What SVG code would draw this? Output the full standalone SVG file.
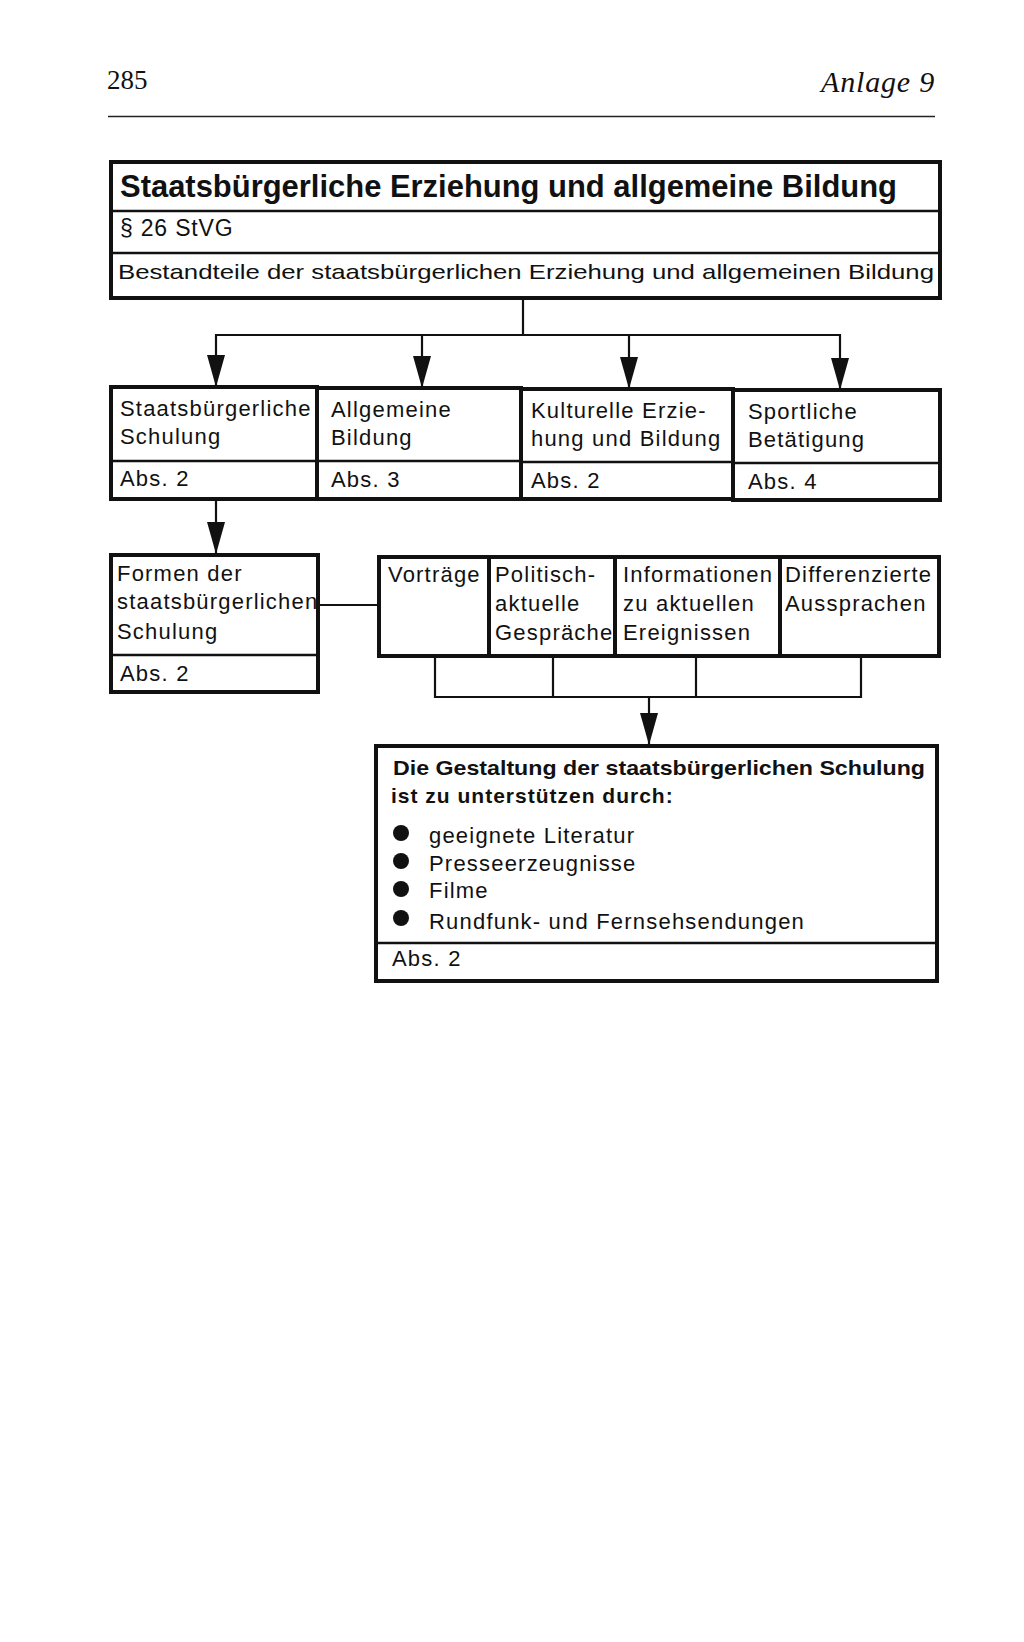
<svg xmlns="http://www.w3.org/2000/svg" width="1024" height="1642" viewBox="0 0 1024 1642">
<defs>
<style>
.s{font-family:"Liberation Sans","DejaVu Sans",sans-serif;fill:#111}
.t{font-size:22px;letter-spacing:1.2px}
.b{font-weight:bold}
.box{fill:#fff;stroke:#111;stroke-width:4}
.div{stroke:#111;stroke-width:2.5;fill:none}
.con{stroke:#111;stroke-width:2.2;fill:none}
</style>
<marker id="ah" viewBox="0 0 32 18" refX="32" refY="9" markerWidth="32" markerHeight="18" markerUnits="userSpaceOnUse" orient="auto">
<path d="M0,0 L32,9 L0,18 z" fill="#111"/>
</marker>
</defs>
<rect width="1024" height="1642" fill="#fff"/>
<g id="page-header">
<text x="107" y="89" font-family="Liberation Serif,serif" font-size="27" fill="#111">285</text>
<text x="935" y="92" font-family="Liberation Serif,serif" font-size="30" letter-spacing="0.8" font-style="italic" fill="#111" text-anchor="end">Anlage 9</text>
<line x1="108" y1="116.5" x2="935" y2="116.5" stroke="#222" stroke-width="1.5"/>
</g>
<g id="main">
<rect class="box" x="111" y="162" width="829" height="136"/>
<line class="div" x1="111" y1="211" x2="940" y2="211"/>
<line class="div" x1="111" y1="253" x2="940" y2="253"/>
<text class="s b" x="120" y="197" font-size="31" textLength="777" lengthAdjust="spacingAndGlyphs">Staatsbürgerliche Erziehung und allgemeine Bildung</text>
<text class="s" x="120" y="236" font-size="23" letter-spacing="0.8">§ 26 StVG</text>
<text class="s" x="118" y="279" font-size="21" textLength="816" lengthAdjust="spacingAndGlyphs">Bestandteile der staatsbürgerlichen Erziehung und allgemeinen Bildung</text>
</g>
<g id="connectors">
<path class="con" d="M523,298 V335 M216,335 H840"/>
<line class="con" x1="216" y1="334" x2="216" y2="387" marker-end="url(#ah)"/>
<line class="con" x1="422" y1="334" x2="422" y2="388" marker-end="url(#ah)"/>
<line class="con" x1="629" y1="334" x2="629" y2="389" marker-end="url(#ah)"/>
<line class="con" x1="840" y1="334" x2="840" y2="390" marker-end="url(#ah)"/>
<line class="con" x1="216" y1="500" x2="216" y2="554" marker-end="url(#ah)"/>
<line class="con" x1="319" y1="605" x2="379" y2="605"/>
<path class="con" d="M435,656 V697 H861 V656 M553,656 V697 M696,656 V697"/>
<line class="con" x1="649" y1="697" x2="649" y2="745" marker-end="url(#ah)"/>
</g>
<g id="row2-staatsbuergerliche-schulung">
<rect class="box" x="111" y="387" width="206" height="112"/>
<line class="div" x1="111" y1="461" x2="317" y2="461"/>
<text class="s t" x="120" y="416">Staatsbürgerliche</text>
<text class="s t" x="120" y="444">Schulung</text>
<text class="s t" x="120" y="486">Abs. 2</text>
</g>
<g id="row2-allgemeine-bildung">
<rect class="box" x="317" y="388" width="204" height="111"/>
<line class="div" x1="317" y1="461" x2="521" y2="461"/>
<text class="s t" x="331" y="417">Allgemeine</text>
<text class="s t" x="331" y="445">Bildung</text>
<text class="s t" x="331" y="487">Abs. 3</text>
</g>
<g id="row2-kulturelle-erziehung">
<rect class="box" x="521" y="389" width="212" height="110"/>
<line class="div" x1="521" y1="462" x2="733" y2="462"/>
<text class="s t" x="531" y="418">Kulturelle Erzie-</text>
<text class="s t" x="531" y="446">hung und Bildung</text>
<text class="s t" x="531" y="488">Abs. 2</text>
</g>
<g id="row2-sportliche-betaetigung">
<rect class="box" x="733" y="390" width="207" height="110"/>
<line class="div" x1="733" y1="463" x2="940" y2="463"/>
<text class="s t" x="748" y="419">Sportliche</text>
<text class="s t" x="748" y="447">Betätigung</text>
<text class="s t" x="748" y="489">Abs. 4</text>
</g>
<g id="formen">
<rect class="box" x="111" y="555" width="207" height="137"/>
<line class="div" x1="111" y1="655" x2="318" y2="655"/>
<text class="s t" x="117" y="581">Formen der</text>
<text class="s t" x="117" y="609">staatsbürgerlichen</text>
<text class="s t" x="117" y="639">Schulung</text>
<text class="s t" x="120" y="681">Abs. 2</text>
</g>
<g id="vortraege">
<rect class="box" x="379" y="557" width="110" height="99"/>
<text class="s t" x="388" y="582">Vorträge</text>
</g>
<g id="politisch-aktuelle-gespraeche">
<rect class="box" x="489" y="557" width="126" height="99"/>
<text class="s t" x="495" y="582">Politisch-</text>
<text class="s t" x="495" y="611">aktuelle</text>
<text class="s t" x="495" y="640">Gespräche</text>
</g>
<g id="informationen">
<rect class="box" x="615" y="557" width="165" height="99"/>
<text class="s t" x="623" y="582">Informationen</text>
<text class="s t" x="623" y="611">zu aktuellen</text>
<text class="s t" x="623" y="640">Ereignissen</text>
</g>
<g id="differenzierte-aussprachen">
<rect class="box" x="780" y="557" width="159" height="99"/>
<text class="s t" x="785" y="582">Differenzierte</text>
<text class="s t" x="785" y="611">Aussprachen</text>
</g>
<g id="gestaltung">
<rect class="box" x="376" y="746" width="561" height="235"/>
<line class="div" x1="376" y1="943" x2="937" y2="943"/>
<text class="s b" x="393" y="775" font-size="21" textLength="532" lengthAdjust="spacingAndGlyphs">Die Gestaltung der staatsbürgerlichen Schulung</text>
<text class="s b" x="391" y="803" font-size="21" letter-spacing="1">ist zu unterstützen durch:</text>
<circle cx="401" cy="833" r="8" fill="#111"/>
<circle cx="401" cy="861" r="8" fill="#111"/>
<circle cx="401" cy="889" r="8" fill="#111"/>
<circle cx="401" cy="918" r="8" fill="#111"/>
<text class="s t" x="429" y="843">geeignete Literatur</text>
<text class="s t" x="429" y="871">Presseerzeugnisse</text>
<text class="s t" x="429" y="898">Filme</text>
<text class="s t" x="429" y="929">Rundfunk- und Fernsehsendungen</text>
<text class="s t" x="392" y="966">Abs. 2</text>
</g>
</svg>
